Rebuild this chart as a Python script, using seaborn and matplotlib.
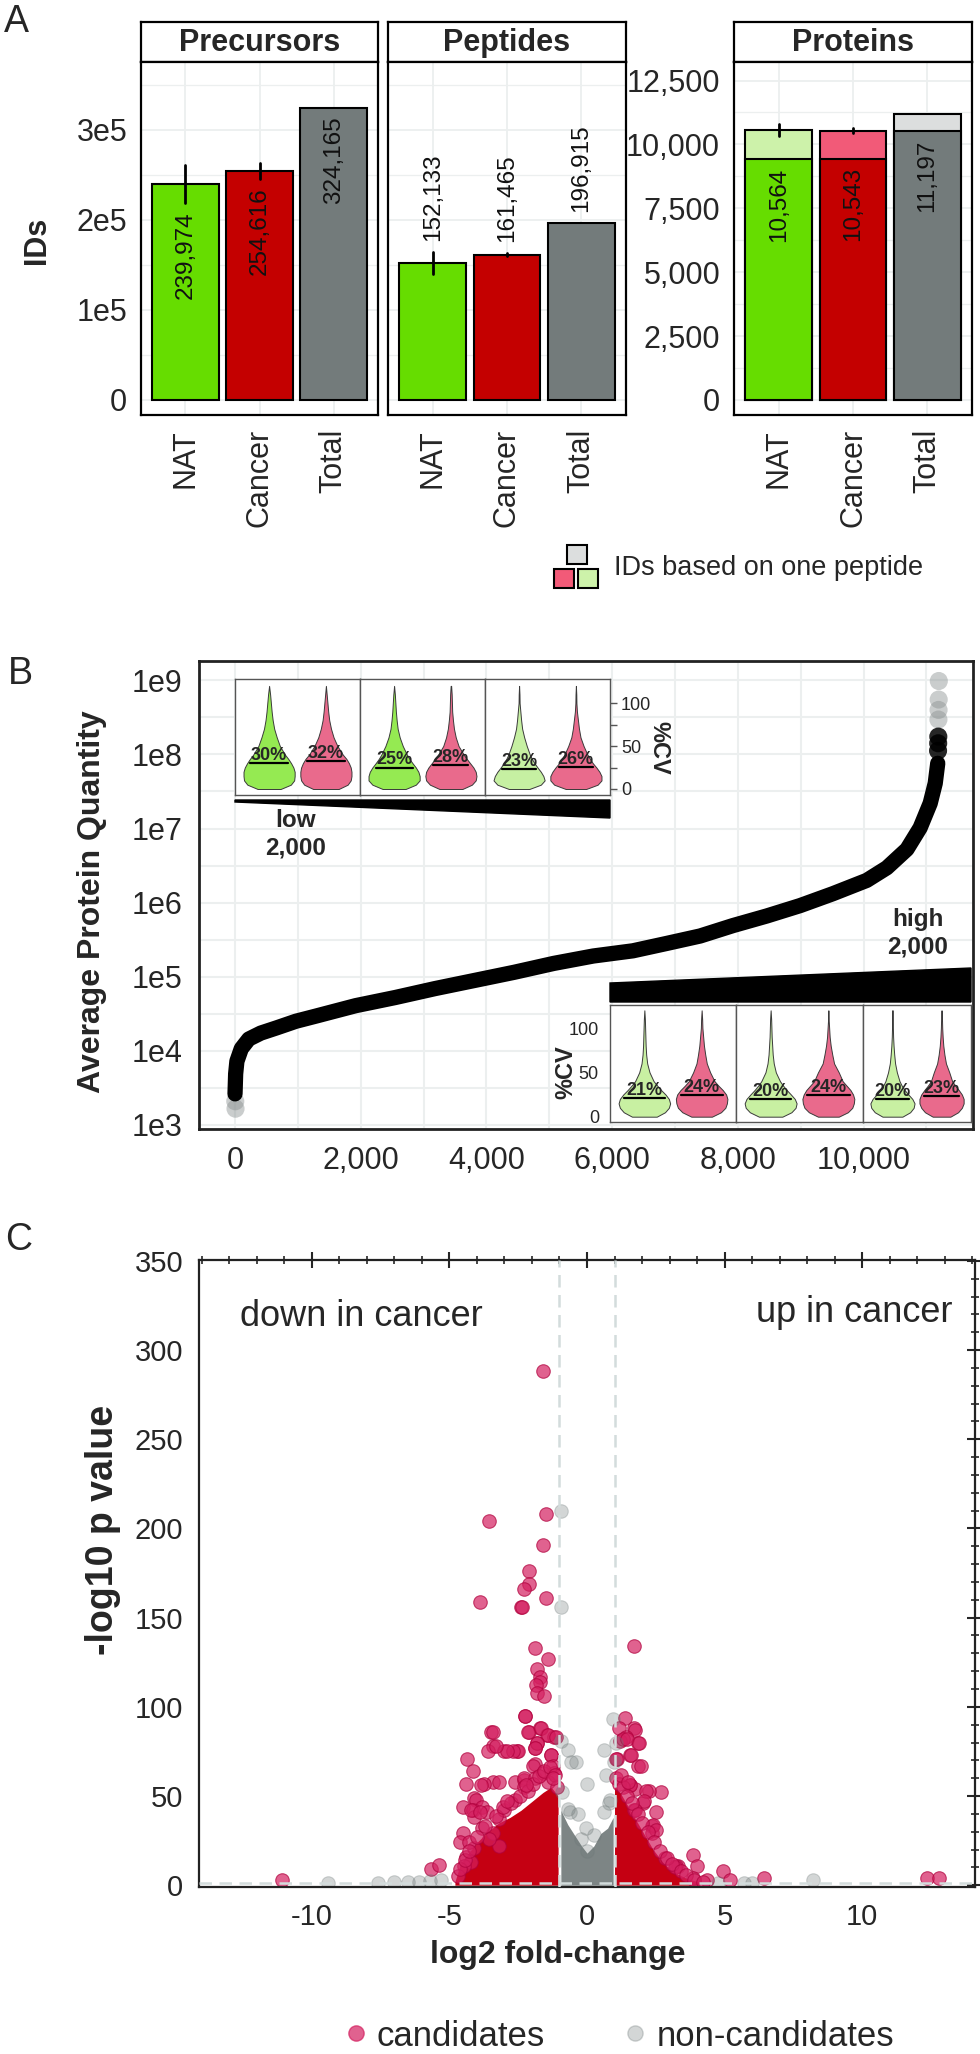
import numpy as np
import pandas as pd
import matplotlib
matplotlib.use('Agg')
import matplotlib.pyplot as plt
import seaborn as sns
from matplotlib.patches import Rectangle, Polygon
from matplotlib.lines import Line2D
from matplotlib.ticker import MultipleLocator

sns.set_style('white')
plt.rcParams['font.family'] = ['Liberation Sans', 'DejaVu Sans']

# ---------------- data: panel A ----------------
groups = ['NAT', 'Cancer', 'Total']
precursors = [239974, 254616, 324165]
precursors_err = [21000, 9000, 0]
peptides = [152133, 161465, 196915]
peptides_err = [12000, 1500, 0]
proteins = [10564, 10543, 11197]
proteins_multi = [9417, 9441, 10524]   # IDs with more than one peptide
proteins_err = [250, 100, 0]

dark_cols = ['#66DD00', '#C40000', '#737B7B']
light_cols = ['#CDF2AA', '#F25A78', '#DCDEDE']

# ---------------- data: panel B ----------------
rank = [0, 10, 30, 100, 220, 410, 660, 970, 1290, 1920, 2550, 3180, 3810, 4440,
        5070, 5700, 6330, 6870, 7400, 7920, 8460, 8990, 9510, 10050, 10370,
        10690, 10900, 11060, 11140, 11180]
log_quant = [3.42, 3.69, 3.86, 4.03, 4.16, 4.24, 4.31, 4.40, 4.47, 4.61, 4.72,
             4.84, 4.95, 5.06, 5.18, 5.28, 5.35, 5.45, 5.55, 5.69, 5.82, 5.96,
             6.12, 6.30, 6.47, 6.72, 7.01, 7.34, 7.61, 7.88]
tail_rank = [4, 8, 11185, 11187, 11189, 11191, 11193, 11195, 11197]
tail_log = [3.32, 3.22, 8.05, 8.15, 8.24, 8.47, 8.60, 8.74, 8.99]
tail_dark = [False, False, True, True, True, False, False, False, False]

cv_grid = [0, 5, 10, 15, 20, 25, 30, 35, 40, 50, 60, 70, 80, 90, 100, 110, 120]
low_profiles = [
    [0.45, 0.85, 0.98, 1.0, 1.0, 0.95, 0.86, 0.75, 0.62, 0.42, 0.30, 0.20, 0.14, 0.10, 0.07, 0.04, 0.0],
    [0.50, 0.85, 0.97, 1.0, 1.0, 0.97, 0.90, 0.80, 0.66, 0.45, 0.30, 0.20, 0.13, 0.09, 0.06, 0.03, 0.0],
    [0.45, 0.85, 1.0, 1.0, 0.95, 0.85, 0.72, 0.60, 0.50, 0.34, 0.22, 0.14, 0.10, 0.07, 0.05, 0.03, 0.0],
    [0.45, 0.82, 0.97, 1.0, 0.97, 0.88, 0.75, 0.62, 0.50, 0.30, 0.19, 0.12, 0.08, 0.05, 0.04, 0.03, 0.01],
    [0.40, 0.85, 1.0, 0.95, 0.85, 0.72, 0.60, 0.50, 0.42, 0.30, 0.20, 0.12, 0.08, 0.05, 0.02, 0.015, 0.0],
    [0.40, 0.85, 1.0, 1.0, 0.92, 0.80, 0.66, 0.55, 0.45, 0.30, 0.18, 0.12, 0.08, 0.04, 0.02, 0.015, 0.0],
]
low_medians = [30, 32, 25, 28, 23, 26]
low_colors = ['#95EA52', '#E96A8C', '#95EA52', '#E96A8C', '#C6F0A2', '#E96A8C']

high_profiles = [
    [0.48, 0.80, 0.95, 1.0, 0.95, 0.82, 0.65, 0.50, 0.36, 0.20, 0.11, 0.07, 0.05, 0.04, 0.03, 0.02, 0.0],
    [0.40, 0.75, 0.92, 0.98, 1.0, 0.95, 0.82, 0.65, 0.50, 0.33, 0.20, 0.14, 0.09, 0.06, 0.03, 0.02, 0.0],
    [0.45, 0.80, 0.96, 1.0, 0.93, 0.78, 0.62, 0.48, 0.36, 0.20, 0.12, 0.08, 0.06, 0.04, 0.03, 0.02, 0.0],
    [0.40, 0.75, 0.92, 0.98, 1.0, 0.95, 0.85, 0.70, 0.55, 0.40, 0.22, 0.15, 0.09, 0.05, 0.03, 0.01, 0.0],
    [0.45, 0.80, 0.96, 1.0, 0.90, 0.72, 0.55, 0.42, 0.32, 0.20, 0.12, 0.08, 0.05, 0.03, 0.02, 0.0, 0.0],
    [0.40, 0.75, 0.92, 1.0, 1.0, 0.92, 0.78, 0.62, 0.48, 0.35, 0.20, 0.13, 0.08, 0.05, 0.03, 0.02, 0.0],
]
high_medians = [21, 24, 20, 24, 20, 23]
high_colors = ['#C8F0A2', '#E96A8C'] * 3

# ---------------- data: panel C ----------------
cand_fc = [-1.6, -1.5, -3.55, -1.6, -2.1, -2.1, -2.3, -3.9, -2.4, -2.35, -1.5, 1.7, -1.9,
           -1.4, -1.8, -1.7, -1.7, -1.85, -1.8, -1.55, -2.25, -3.5, -2.1, -1.7, -1.45, -1.2,
           -3.4, -3.6, -3.0, -2.55, -2.5, -1.8, -1.9, -1.3, -4.35, -4.15, -1.9, -3.4, -4.4,
           -3.75, -4.1, -4.05, -4.5, -3.8, -4.15, -3.65, -4.1, -4.5, -4.6, -4.4, -5.67, -5.38,
           -11.1, -3.87, -3.18, -4.2, -3.9, -3.2, -3.0, -2.6, -2.6, -2.28, -2.7, -2.9, -3.3,
           -3.4, -2.25, -2.14, -1.68, -1.42, -1.14, -1.83, -1.88, -1.32, -1.95, -1.23, -2.3,
           -2.3, -1.9, -1.6, -1.2, -1.42, -3.18, -3.4, -3.55, -4.1, -4.3, -4.2, -4.47, -3.8,
           1.38, 1.15, 1.7, 1.75, 1.4, 1.2, 1.85, 1.55, 1.6, 1.1, 1.85, 1.95, 2.7, 2.25, 1.55,
           1.75, 2.05, 2.5, 1.7, 2.35, 2.35, 3.85, 4.0, 3.3, 4.95, 5.2, 4.35, 6.45, 12.35, 12.8,
           1.3, 1.45, 1.9, 1.04, 1.57, 2.15, 2.06, 2.4, 2.5, 2.85, 3.25, 3.2, 3.85, 1.74,
           -4.7, -4.6, -4.45, -4.3, -4.0, -3.7, -3.3, -3.05, -2.75, -2.45, -2.15, -1.95,
           -1.75, -1.55, -1.35, -1.15, -1.1, -2.9, -2.2, -1.25,
           1.05, 1.15, 1.3, 1.45, 1.65, 1.85, 2.0, 2.2, 2.45, 2.65, 2.9, 3.1, 3.4, 3.6,
           3.9, 4.2, 1.25, 1.5]
cand_p = [288, 208, 204, 191, 176, 169, 166, 159, 156, 156, 161, 134, 133,
          127, 121, 117, 114, 112, 108, 106, 95, 86, 86, 88, 84, 83,
          78, 75, 75, 75, 75, 80, 77, 73, 71, 64, 68, 58, 57,
          57, 49, 48, 44, 44, 42, 41, 38, 29, 24, 16, 9, 11.5,
          3, 56, 58, 42, 41, 37, 42, 48, 58, 59, 75, 75, 78,
          86, 95, 86, 88, 84, 83, 80, 77, 73, 67, 67, 60,
          55, 60, 63, 63, 58, 22, 29, 26, 21, 24, 13, 11, 32,
          94, 88, 88, 87, 83, 81, 80, 73, 73, 71, 67, 67, 52, 53, 56,
          54, 46, 41, 42, 33, 29, 17, 11, 11, 8, 3, 3, 4, 4, 4,
          82, 82, 80, 71, 56, 53, 47, 34, 31, 15, 11, 10, 4, 42,
          5, 9, 14, 19, 27, 33, 39, 44, 46, 50, 53, 57,
          61, 64, 66, 62, 55, 47, 56, 60,
          60, 57, 55, 50, 46, 40, 35, 30, 24, 19, 15, 12, 8, 6,
          3, 2, 62, 58]
noncand_fc = [-0.95, -0.95, 0.93, -0.95, -0.7, 0.63, 1.05, -0.58, -0.4, 0.98, 0.0, 0.7,
              -0.9, 0.8, 0.6, -0.6, -0.05, 0.25, -0.2, 0.0, -0.33, 0.85, -0.7,
              -9.4, -7.6, -7.0, -6.5, -6.1, -5.7, -5.3, 4.75, 5.7, 6.0, 8.2]
noncand_p = [210, 156, 93, 81, 76, 76, 80, 69, 69, 69, 57, 62,
             52, 46, 41, 41, 32, 28, 26, 19, 40, 48, 43,
             1, 1.5, 2, 2, 2, 2.5, 3, 1, 1, 1.5, 3]

# dense cores read as envelopes
left_env_fc = [-4.8, -4.6, -4.3, -4.0, -3.6, -3.2, -2.8, -2.4, -2.0, -1.6, -1.3, -1.05]
left_env_p = [2, 12, 18, 24, 30, 35, 38, 42, 47, 52, 55, 50]
right_env_fc = [1.0, 1.2, 1.5, 1.8, 2.1, 2.4, 2.8, 3.2, 3.6, 4.1]
right_env_p = [55, 52, 44, 36, 28, 20, 12, 7, 4, 1.5]
mid_env_fc = [-0.95, -0.7, -0.45, -0.2, 0.0, 0.25, 0.5, 0.75, 0.95]
mid_env_p = [42, 34, 28, 22, 18, 22, 29, 32, 38]

# ---------------- figure ----------------
W, H = 980, 2054
fig = plt.figure(figsize=(W / 100, H / 100), dpi=100)


def box(x0, y0, x1, y1):
    return fig.add_axes([x0 / W, 1 - y1 / H, (x1 - x0) / W, (y1 - y0) / H])


def fpt(x, y):
    return (x / W, 1 - y / H)


GRID = '#ECEFEF'

# ================= Panel A =================
fig.text(*fpt(4, 4), 'A', fontsize=27, va='top', ha='left')


def bar_facet(x0, x1, title, vals, errs, ylim, yticks, yticklabels, minor, mode, multi=None):
    strip = box(x0, 22, x1, 62)
    strip.set_xticks([])
    strip.set_yticks([])
    for s in strip.spines.values():
        s.set_linewidth(1.6)
        s.set_color('black')
    strip.text(0.5, 0.47, title, ha='center', va='center', fontsize=22,
               fontweight='bold', transform=strip.transAxes)

    ax = box(x0, 62, x1, 415)
    df = pd.DataFrame({'group': groups, 'value': vals})
    if multi is None:
        sns.barplot(data=df, x='group', y='value', hue='group', palette=dark_cols,
                    width=0.9, edgecolor='black', linewidth=1.5, saturation=1,
                    legend=False, ax=ax)
    else:
        sns.barplot(data=df, x='group', y='value', hue='group', palette=light_cols,
                    width=0.9, edgecolor='black', linewidth=1.5, saturation=1,
                    legend=False, ax=ax)
        df2 = pd.DataFrame({'group': groups, 'value': multi})
        sns.barplot(data=df2, x='group', y='value', hue='group', palette=dark_cols,
                    width=0.9, edgecolor='black', linewidth=1.5, saturation=1,
                    legend=False, ax=ax)
    for i, (v, e) in enumerate(zip(vals, errs)):
        if e > 0:
            ax.plot([i, i], [v - e, v + e], color='black', lw=2, zorder=5)
    for i, v in enumerate(vals):
        txt = f'{v:,}'
        if mode == 'in':
            ref = multi[i] if multi is not None else v - errs[i]
            ax.annotate(txt, (i, ref), xytext=(0, -6), textcoords='offset points',
                        rotation=90, ha='center', va='top', fontsize=17.5, color='#111111')
        else:
            ax.annotate(txt, (i, v + errs[i]), xytext=(0, 8), textcoords='offset points',
                        rotation=90, ha='center', va='bottom', fontsize=17.5, color='#111111')
    ax.set_xlim(-0.6, 2.6)
    ax.set_ylim(*ylim)
    ax.set_xticks(range(3))
    ax.set_xticklabels(groups, rotation=90, fontsize=22)
    ax.set_xlabel('')
    ax.set_ylabel('')
    ax.set_yticks(yticks)
    if yticklabels is None:
        ax.set_yticklabels([])
        ax.tick_params(axis='y', length=0)
    else:
        ax.set_yticklabels(yticklabels, fontsize=22)
        ax.tick_params(axis='y', length=7, width=1.5, pad=3)
    ax.tick_params(axis='x', length=7, width=1.5, pad=3)
    ax.yaxis.set_minor_locator(MultipleLocator(minor))
    ax.tick_params(which='minor', length=0)
    ax.set_axisbelow(True)
    ax.grid(True, which='major', color=GRID, lw=1.3)
    ax.grid(True, which='minor', axis='y', color=GRID, lw=0.9)
    for s in ax.spines.values():
        s.set_linewidth(1.6)
        s.set_color('black')
    return ax


prec_lim = (-16700, 375500)
bar_facet(141, 378, 'Precursors', precursors, precursors_err, prec_lim,
          [0, 1e5, 2e5, 3e5], ['0', '1e5', '2e5', '3e5'], 5e4, 'in')
bar_facet(388, 626, 'Peptides', peptides, peptides_err, prec_lim,
          [0, 1e5, 2e5, 3e5], None, 5e4, 'out')
bar_facet(734, 972, 'Proteins', proteins, proteins_err, (-587, 13224),
          [0, 2500, 5000, 7500, 10000, 12500],
          ['0', '2,500', '5,000', '7,500', '10,000', '12,500'], 1250, 'in',
          multi=proteins_multi)

fig.text(*fpt(37, 240), 'IDs', rotation=90, ha='center', va='center',
         fontsize=22, fontweight='bold')

# legend for one-peptide IDs
for (lx, ly), col in zip([(567, 545), (554, 569), (578, 569)],
                         [light_cols[2], light_cols[1], light_cols[0]]):
    fig.add_artist(Rectangle(fpt(lx, ly + 19), 20 / W, 19 / H, transform=fig.transFigure,
                             facecolor=col, edgecolor='black', lw=1.5))
fig.text(*fpt(614, 568), 'IDs based on one peptide', fontsize=19.5, ha='left', va='center')

# ================= Panel B =================
fig.text(*fpt(8, 656), 'B', fontsize=27, va='top', ha='left')
axb = box(199, 661, 973, 1129)
curve = pd.DataFrame({'rank': rank, 'quantity': [10 ** v for v in log_quant]})
tails = pd.DataFrame({'rank': tail_rank, 'quantity': [10 ** v for v in tail_log],
                      'dark': tail_dark})
axb.set_yscale('log')
sns.lineplot(data=curve, x='rank', y='quantity', color='black', lw=11,
             estimator=None, sort=False, ax=axb, solid_capstyle='round')
sns.scatterplot(data=tails[~tails['dark']], x='rank', y='quantity', color='#8A9090',
                alpha=0.45, s=170, edgecolor='none', ax=axb)
sns.scatterplot(data=tails[tails['dark']], x='rank', y='quantity', color='black',
                alpha=0.85, s=170, edgecolor='none', ax=axb)
axb.set_xlim(-573, 11741)
axb.set_ylim(10 ** 2.946, 10 ** 9.26)
axb.set_yticks([10 ** k for k in range(3, 10)])
axb.set_yticklabels([f'1e{k}' for k in range(3, 10)], fontsize=22)
axb.set_xticks(range(0, 10001, 2000))
axb.set_xticklabels([f'{v:,}' for v in range(0, 10001, 2000)], fontsize=22)
axb.yaxis.set_minor_locator(plt.FixedLocator([10 ** (k + 0.5) for k in range(2, 10)]))
axb.xaxis.set_minor_locator(MultipleLocator(1000))
axb.tick_params(which='major', length=8, width=1.5, pad=4)
axb.tick_params(which='minor', length=0)
axb.set_xlabel('')
axb.set_ylabel('')
axb.set_axisbelow(True)
axb.grid(True, which='both', color=GRID, lw=1.5)
for s in axb.spines.values():
    s.set_linewidth(2)
    s.set_color('#222222')
fig.text(*fpt(92, 902), 'Average Protein Quantity', rotation=90, ha='center',
         va='center', fontsize=23, fontweight='bold')


def violin_facet(bx, profiles, medians, colors, ylim):
    ax = box(*bx)
    ax.set_facecolor('white')
    for j in range(2):
        pos = j + 1
        hw = [0.45 * p for p in profiles[j]]
        ax.fill_betweenx(cv_grid, [pos - h for h in hw], [pos + h for h in hw],
                         facecolor=colors[j], edgecolor='#3A3A3A', lw=0.7)
        wm = 0.85 * np.interp(medians[j], cv_grid, hw)
        ax.plot([pos - wm, pos + wm], [medians[j], medians[j]], color='black', lw=1.6)
        ax.text(pos, medians[j] - 1, f'{medians[j]}%', ha='center', va='bottom',
                fontsize=13, fontweight='bold')
    ax.set_xlim(0.4, 2.6)
    ax.set_ylim(*ylim)
    ax.set_xticks([])
    ax.set_yticks([])
    for s in ax.spines.values():
        s.set_linewidth(1.0)
        s.set_color('#555555')
    return ax


low_boxes = [(235, 679, 360, 795), (360, 679, 485, 795), (485, 679, 610, 795)]
for k, bx in enumerate(low_boxes):
    a = violin_facet(bx, low_profiles[2 * k:2 * k + 2], low_medians[2 * k:2 * k + 2],
                     low_colors[2 * k:2 * k + 2], (-7, 128))
    if k == 2:
        a.yaxis.tick_right()
        a.set_yticks([0, 25, 50, 75, 100])
        a.set_yticklabels(['0', '', '50', '', '100'], fontsize=13)
        a.tick_params(axis='y', length=5, width=1, color='#555555', pad=3)
fig.text(*fpt(659, 748), '%CV', rotation=270, ha='center', va='center',
         fontsize=17, fontweight='bold')

high_boxes = [(610, 1005, 736, 1122), (736, 1005, 863, 1122), (863, 1005, 971, 1122)]
for k, bx in enumerate(high_boxes):
    a = violin_facet(bx, high_profiles[2 * k:2 * k + 2], high_medians[2 * k:2 * k + 2],
                     high_colors[2 * k:2 * k + 2], (-6, 126))
    if k == 0:
        a.set_yticks([0, 25, 50, 75, 100])
        a.set_yticklabels(['0', '', '50', '', '100'], fontsize=13)
        a.tick_params(axis='y', length=5, width=1, color='#555555', pad=3)
fig.text(*fpt(566, 1072), '%CV', rotation=90, ha='center', va='center',
         fontsize=17, fontweight='bold')

# rank-range wedges
fig.add_artist(Polygon([fpt(235, 800), fpt(610, 800), fpt(610, 818), fpt(235, 802)],
                       closed=True, transform=fig.transFigure, color='black'))
fig.add_artist(Polygon([fpt(610, 983), fpt(971, 968), fpt(971, 1002), fpt(610, 1002)],
                       closed=True, transform=fig.transFigure, color='black'))
fig.text(*fpt(296, 834), 'low\n2,000', ha='center', va='center', fontsize=17.5,
         fontweight='bold', linespacing=1.25)
fig.text(*fpt(918, 933), 'high\n2,000', ha='center', va='center', fontsize=17.5,
         fontweight='bold', linespacing=1.25)

# ================= Panel C =================
fig.text(*fpt(5, 1222), 'C', fontsize=27, va='top', ha='left')
axc = box(199, 1260, 975, 1887)
red = '#D42060'
red_edge = '#B0003C'
gray = '#6E7878'
axc.fill_between(left_env_fc, 0, left_env_p, color='#C50012', lw=0, zorder=1)
axc.fill_between(right_env_fc, 0, right_env_p, color='#C50012', lw=0, zorder=1)
axc.fill_between(mid_env_fc, 0, mid_env_p, color='#7D8585', lw=0, zorder=1)
cand = pd.DataFrame({'fc': cand_fc, 'p': cand_p})
noncand = pd.DataFrame({'fc': noncand_fc, 'p': noncand_p})
sns.scatterplot(data=cand, x='fc', y='p', color=red, alpha=0.7, s=95,
                edgecolor=red_edge, linewidth=0.8, ax=axc, zorder=2)
sns.scatterplot(data=noncand, x='fc', y='p', color=gray, alpha=0.3, s=95,
                edgecolor=gray, linewidth=0.8, ax=axc, zorder=2)
for xv in (-1, 1):
    axc.axvline(xv, color='#D3DCDC', lw=1.8, ls=(0, (5, 3)), zorder=3)
axc.axhline(1.3, color='#D3DCDC', lw=1.8, ls=(0, (5, 3)), zorder=3)
axc.set_xlim(-14.1, 14.1)
axc.set_ylim(-1, 350.5)
axc.set_xticks([-10, -5, 0, 5, 10])
axc.set_xticklabels(['-10', '-5', '0', '5', '10'], fontsize=21)
axc.set_yticks(range(0, 351, 50))
axc.set_yticklabels([str(v) for v in range(0, 351, 50)], fontsize=21)
axc.xaxis.set_minor_locator(MultipleLocator(1))
axc.yaxis.set_minor_locator(MultipleLocator(10))
axc.tick_params(which='major', direction='inout', length=11, width=1.5,
                top=True, right=True, pad=6)
axc.tick_params(which='minor', direction='inout', length=6, width=1.2, top=True, right=True)
axc.set_xlabel('')
axc.set_ylabel('')
for s in axc.spines.values():
    s.set_linewidth(1.6)
    s.set_color('#222222')
axc.text(-12.6, 319, 'down in cancer', fontsize=26, ha='left', va='center')
axc.text(13.3, 321, 'up in cancer', fontsize=26, ha='right', va='center')
fig.text(*fpt(103, 1530), '-log10 p value', rotation=90, ha='center', va='center',
         fontsize=27, fontweight='bold')
fig.text(*fpt(558, 1955), 'log2 fold-change', ha='center', va='center',
         fontsize=23, fontweight='bold')

handles = [Line2D([], [], ls='none', marker='o', markersize=11, color=red, alpha=0.7),
           Line2D([], [], ls='none', marker='o', markersize=11, color=gray, alpha=0.3)]
fig.legend(handles, ['candidates', 'non-candidates'], loc='center',
           bbox_to_anchor=(618 / W, 1 - 2036 / H), ncol=2, frameon=False,
           fontsize=25, handletextpad=0.2, columnspacing=2.2, handlelength=0.8)

fig.savefig('out.png', dpi=100)
